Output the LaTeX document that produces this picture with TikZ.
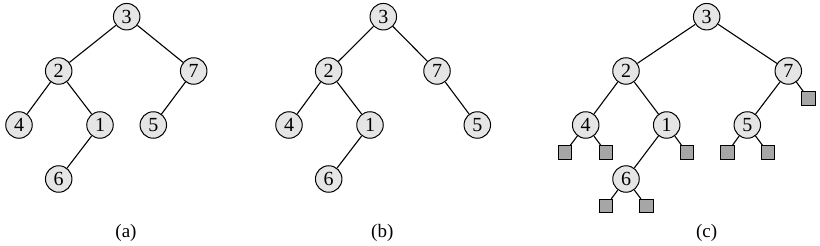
\documentclass[tikz,border=0pt]{standalone}
\usepackage{fontspec}
\setmainfont{Liberation Serif}
\begin{document}
\begin{tikzpicture}[x=1pt,y=-1pt,
  vtx/.style={circle,draw,fill=black!10,line width=1pt,minimum size=26.5pt,inner sep=0pt,font=\fontsize{20}{20}\selectfont},
  leaf/.style={rectangle,draw,fill=black!35,line width=0.8pt,minimum size=13.5pt,inner sep=0pt},
  edge/.style={line width=1.1pt},
  lbl/.style={font=\fontsize{19}{19}\selectfont}]
\useasboundingbox (0,0) rectangle (820,246);
% (a)
\node[vtx] (a3) at (126.7,16.7) {3};
\node[vtx] (a2) at (58.7,71) {2};
\node[vtx] (a7) at (193.7,71) {7};
\node[vtx] (a4) at (19,125) {4};
\node[vtx] (a1) at (100,125) {1};
\node[vtx] (a5) at (153.3,125) {5};
\node[vtx] (a6) at (58.7,179) {6};
\draw[edge] (a3)--(a2) (a3)--(a7) (a2)--(a4) (a2)--(a1) (a1)--(a6) (a7)--(a5);
\node[lbl] (la) at (126,233) {(a)};
% (b)
\node[vtx] (b3) at (383.3,16.7) {3};
\node[vtx] (b2) at (328.7,71) {2};
\node[vtx] (b7) at (437,71) {7};
\node[vtx] (b4) at (289,125) {4};
\node[vtx] (b1) at (370,125) {1};
\node[vtx] (b5) at (477.3,125) {5};
\node[vtx] (b6) at (328.7,179) {6};
\draw[edge] (b3)--(b2) (b3)--(b7) (b2)--(b4) (b2)--(b1) (b1)--(b6) (b7)--(b5);
\node[lbl] (lb) at (382.3,233) {(b)};
% (c)
\node[vtx] (c3) at (706.7,16.7) {3};
\node[vtx] (c2) at (626,71) {2};
\node[vtx] (c7) at (788.3,71) {7};
\node[vtx] (c4) at (585.7,125) {4};
\node[vtx] (c1) at (666.7,125) {1};
\node[vtx] (c5) at (747.3,125) {5};
\node[vtx] (c6) at (626,179) {6};
\node[leaf] (s4l) at (565,152.3) {};
\node[leaf] (s4r) at (606,152.3) {};
\node[leaf] (s1r) at (686.7,152.3) {};
\node[leaf] (s5l) at (727.3,152.3) {};
\node[leaf] (s5r) at (767.7,152.3) {};
\node[leaf] (s7r) at (808.3,98.3) {};
\node[leaf] (s6l) at (606,206) {};
\node[leaf] (s6r) at (646.3,206) {};
\draw[edge] (c3)--(c2) (c3)--(c7) (c2)--(c4) (c2)--(c1) (c1)--(c6) (c7)--(c5)
  (c4)--(s4l) (c4)--(s4r) (c1)--(s1r) (c5)--(s5l) (c5)--(s5r) (c7)--(s7r)
  (c6)--(s6l) (c6)--(s6r);
\node[lbl] (lc) at (706.7,233) {(c)};
\end{tikzpicture}
\end{document}
